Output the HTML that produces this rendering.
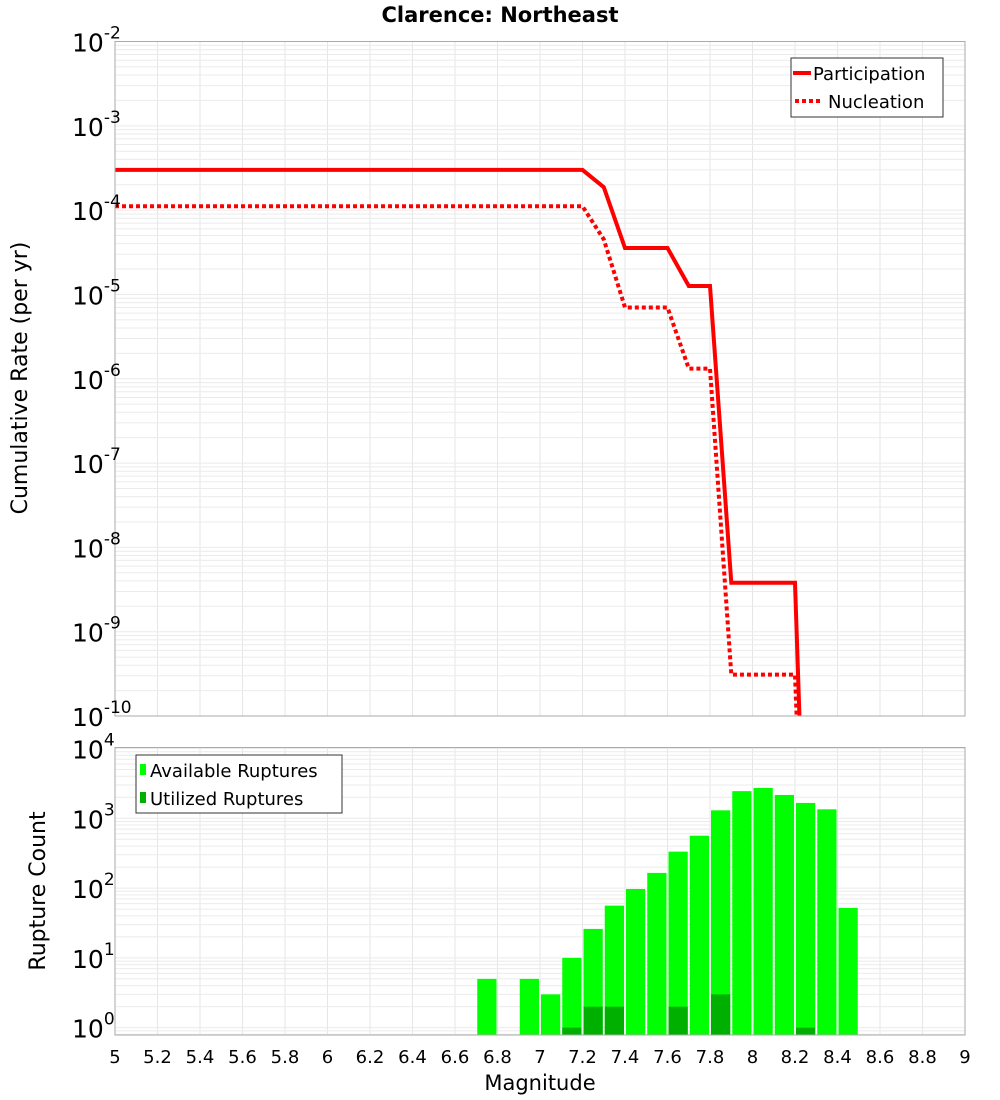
<!DOCTYPE html>
<html><head><meta charset="utf-8"><style>
html,body{margin:0;padding:0;background:#fff;width:1000px;height:1100px;overflow:hidden;position:relative;}
svg{display:block;font-family:"DejaVu Sans","Liberation Sans",sans-serif;}
</style></head><body>
<svg id="chart" width="1000" height="1100" viewBox="0 0 1000 1100" style="position:absolute;left:0;top:0">
<text x="500" y="22" text-anchor="middle" font-size="21" font-weight="bold">Clarence: Northeast</text>
<g id="grid"></g>
<g id="marks"></g>
<g id="axes"></g>
</svg>
<script>
// ---- data ----
const rateMags = [5.0, 7.2, 7.3, 7.4, 7.6, 7.7, 7.8, 7.9, 8.2, 8.3];
const participation = [3.0e-4, 3.0e-4, 1.87e-4, 3.55e-5, 3.55e-5, 1.26e-5, 1.26e-5, 3.8e-9, 3.8e-9, 1e-16];
const nucleation = [1.11e-4, 1.11e-4, 4.5e-5, 7.0e-6, 7.0e-6, 1.32e-6, 1.32e-6, 3.1e-10, 3.1e-10, 1e-16];
const binCenters = [6.75, 6.95, 7.05, 7.15, 7.25, 7.35, 7.45, 7.55, 7.65, 7.75, 7.85, 7.95, 8.05, 8.15, 8.25, 8.35, 8.45];
const available = [5, 5, 3, 10, 26, 56, 97, 165, 333, 563, 1300, 2450, 2720, 2160, 1660, 1345, 52];
const utilized = [0, 0, 0, 1, 2, 2, 0, 0, 2, 0, 3, 0, 0, 0, 1, 0, 0];
const xTicks = [5, 5.2, 5.4, 5.6, 5.8, 6, 6.2, 6.4, 6.6, 6.8, 7, 7.2, 7.4, 7.6, 7.8, 8, 8.2, 8.4, 8.6, 8.8, 9];
const topExps = [-2, -3, -4, -5, -6, -7, -8, -9, -10];
const botExps = [4, 3, 2, 1, 0];

// ---- geometry ----
const L = 115, R = 965;
const T1 = 41.5, B1 = 716;
const T2 = 747.5, B2 = 1035;
const NS = 'http://www.w3.org/2000/svg';
const X = m => L + (m - 5) * (R - L) / 4;
const Y1 = v => T1 + (-2 - Math.log10(v)) * (B1 - T1) / 8;
const botMin = Math.log10(0.785);
const Y2 = v => B2 - (Math.log10(v) - botMin) * (B2 - 748.5) / (4 - botMin);

function mk(tag, attrs, parent) {
  const e = document.createElementNS(NS, tag);
  for (const k in attrs) e.setAttribute(k, attrs[k]);
  parent.appendChild(e);
  return e;
}
const grid = document.getElementById('grid');
const marks = document.getElementById('marks');
const axes = document.getElementById('axes');

[[T1, B1], [T2, B2]].forEach(([t, b], pi) => {
  xTicks.forEach(m => { mk('line', {x1: X(m), x2: X(m), y1: t, y2: b, stroke: '#e6e6e6', 'stroke-width': 1}, grid); });
  for (let e = -12; e <= 5; e++) for (let k = 1; k <= 9; k++) {
    const v = k * Math.pow(10, e);
    const y = pi === 0 ? Y1(v) : Y2(v);
    if (y > t && y < b) mk('line', {x1: L, x2: R, y1: y, y2: y, stroke: '#ebebeb', 'stroke-width': 1}, grid);
  }
});

const defs = mk('defs', {}, document.getElementById('chart'));
const cp = mk('clipPath', {id: 'c1'}, defs);
mk('rect', {x: L, y: T1, width: R - L, height: B1 - T1}, cp);

function linePath(vals) {
  return rateMags.map((m, i) => (i ? 'L' : 'M') + X(m).toFixed(1) + ',' + Y1(vals[i]).toFixed(1)).join(' ');
}
const g1 = mk('g', {'clip-path': 'url(#c1)'}, marks);
const pl = mk('path', {d: linePath(participation), fill: 'none', stroke: '#ff0000', 'stroke-width': 4}, g1);


const nl = mk('path', {d: linePath(nucleation), fill: 'none', stroke: '#ff0000', 'stroke-width': 4, 'stroke-dasharray': '4 3'}, g1);



const bw = (R - L) / 40;
binCenters.forEach((c, i) => {
  const x0 = X(c - 0.05) + 1, w = bw - 2;
  const a = mk('rect', {x: x0, y: Y2(available[i]), width: w, height: B2 - Y2(available[i]), fill: '#00ff00'}, marks);
  
  
  if (utilized[i] > 0) {
    const u = mk('rect', {x: x0, y: Y2(utilized[i]), width: w, height: B2 - Y2(utilized[i]), fill: '#00b000'}, marks);
    
    
  }
});

mk('rect', {x: L, y: T1, width: R - L, height: B1 - T1, fill: 'none', stroke: '#aaaaaa'}, axes);
mk('rect', {x: L, y: T2, width: R - L, height: B2 - T2, fill: 'none', stroke: '#aaaaaa'}, axes);

xTicks.forEach(m => {
  const t = mk('text', {x: X(m), y: 1063, 'text-anchor': 'middle', 'font-size': 18}, axes);
  t.textContent = String(m);
  
  
});
function expLabel(e, y) {
  const t = mk('text', {x: 72, y: y, 'font-size': 25}, axes);
  t.textContent = '10';
  const s = mk('tspan', {dy: -13, 'font-size': 17}, t);
  s.textContent = String(e);
  
  
}
topExps.forEach(e => expLabel(e, Y1(Math.pow(10, e)) + 10));
botExps.forEach(e => expLabel(e, Y2(Math.pow(10, e)) + 10));
</script>
<svg style="position:absolute;left:0;top:0" width="1000" height="1100">
<text x="27" y="378" transform="rotate(-90 27 378)" text-anchor="middle" font-size="22">Cumulative Rate (per yr)</text>
<text x="45" y="891" transform="rotate(-90 45 891)" text-anchor="middle" font-size="22">Rupture Count</text>
<text x="540" y="1090" text-anchor="middle" font-size="21">Magnitude</text>
<g font-size="18">
<rect x="791" y="58" width="152" height="59" fill="#fff" stroke="#333"/>
<line x1="793" x2="811" y1="73" y2="73" stroke="#ff0000" stroke-width="4"/>
<text x="813" y="80">Participation</text>
<line x1="795" x2="820" y1="101" y2="101" stroke="#ff0000" stroke-width="4" stroke-dasharray="4 3"/>
<text x="828" y="108">Nucleation</text>
</g>
<g font-size="18">
<rect x="136" y="755" width="206" height="58" fill="#fff" stroke="#333"/>
<rect x="140" y="764" width="6" height="11" fill="#00ff00"/>
<text x="150" y="777">Available Ruptures</text>
<rect x="140" y="792" width="6" height="11" fill="#00b000"/>
<text x="150" y="805">Utilized Ruptures</text>
</g>
</svg>
</body></html>
